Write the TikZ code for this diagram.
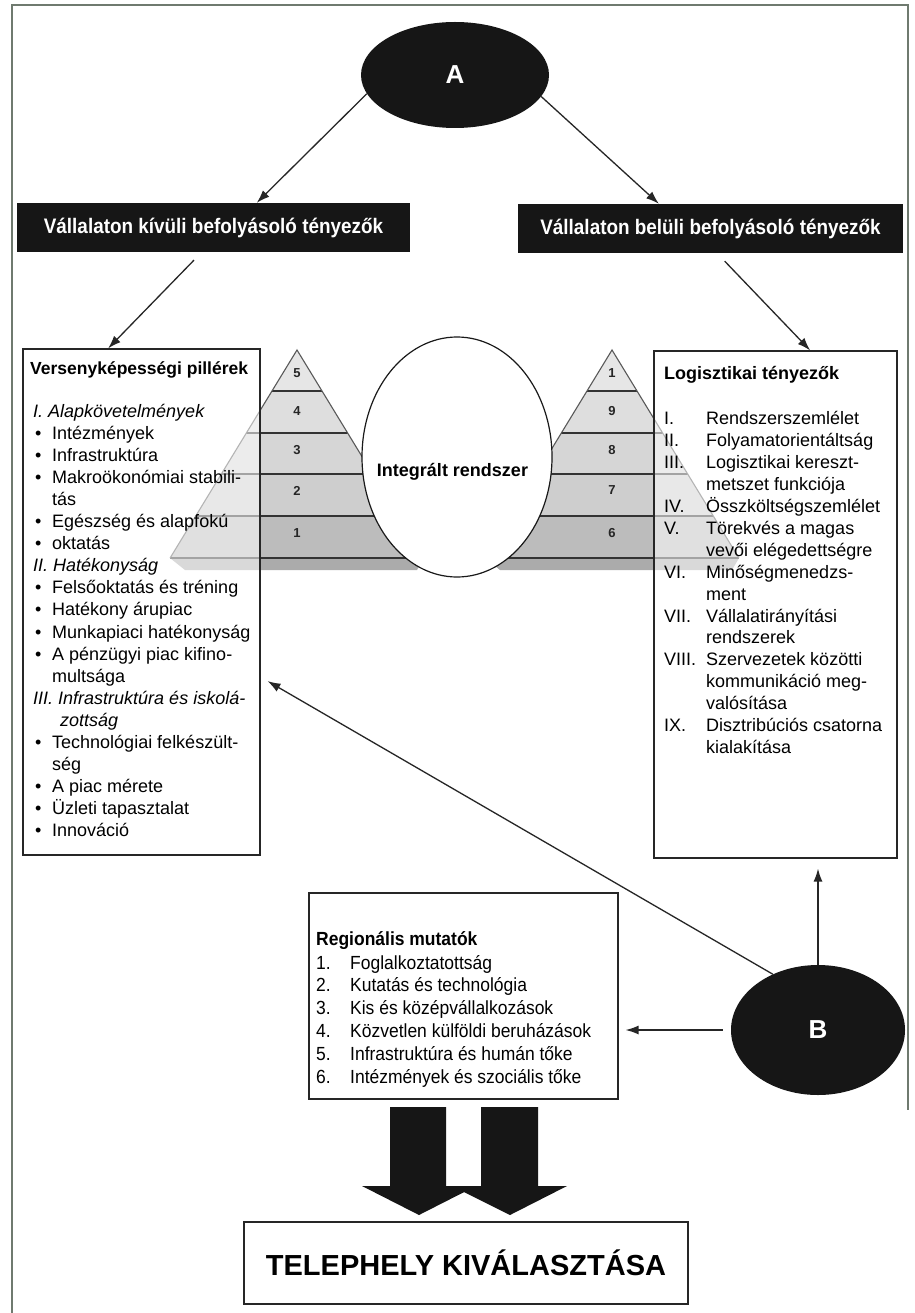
\documentclass[tikz,border=0pt]{standalone}
\usepackage{fontspec}
\setmainfont{Liberation Sans}
\newfontfamily\narrowfont[FakeStretch=0.9]{Liberation Sans}
\newfontfamily\regfont[FakeStretch=0.92]{Liberation Sans}
\usetikzlibrary{arrows.meta,shapes.geometric,calc}
\definecolor{ink}{HTML}{161616}
\definecolor{framec}{HTML}{6F7A6F}
\definecolor{pyrE}{HTML}{E6E6E6}
\definecolor{pyrD}{HTML}{DEDEDE}
\definecolor{pyrC}{HTML}{D6D6D6}
\definecolor{pyrB}{HTML}{CECECE}
\definecolor{pyrA}{HTML}{BCBCBC}
\definecolor{pyrband}{HTML}{ABABAB}
\newcommand\pbul{\hspace*{2pt}\makebox[17pt][l]{•}}
\newcommand\pcont{\hspace*{19pt}}
\newcommand\rnum[1]{\makebox[42pt][l]{#1}}
\newcommand\rcont{\hspace*{42pt}}
\newcommand\regn[1]{\makebox[34pt][l]{#1}}
\tikzset{
  boxs/.style={draw=black!85, line width=1.2pt, inner sep=0},
  blackbox/.style={fill=ink, text=white, inner sep=0,
    font=\narrowfont\bfseries\fontsize{21}{21}\selectfont},
  arr/.style={-{Latex[length=13pt,width=9pt]}, line width=1.3pt, draw=black!85},
  dark/.style={ellipse, fill=ink, text=white, inner sep=0,
    font=\bfseries\fontsize{26}{26}\selectfont},
  pyrline/.style={draw=black!80, line width=1.1pt},
  pnum/.style={text=black!85, inner sep=0, font=\bfseries\fontsize{13}{13}\selectfont},
  txt/.style={anchor=base west, inner sep=0, text=black},
}
\begin{document}
\begin{tikzpicture}[x=1pt,y=-1pt]
\useasboundingbox[fill=white] (0,0) rectangle (914,1313);
% frame
\draw[framec, line width=2pt] (12,1313) -- (12,5) -- (908,5) -- (908,1110);
% pyramids
\foreach \cx in {297,612} {
  \fill[pyrband] ({\cx-127},558) -- ({\cx+127},558) -- ({\cx+120},570) -- ({\cx-112},570) -- cycle;
  \foreach \ya/\yb/\c in {350/391/pyrE,391/433/pyrD,433/474/pyrC,474/516/pyrB,516/558/pyrA} {
    \fill[\c] ({\cx-0.61*(\ya-350)},\ya) -- ({\cx+0.61*(\ya-350)},\ya) -- ({\cx+0.61*(\yb-350)},\yb) -- ({\cx-0.61*(\yb-350)},\yb) -- cycle;
  }
  \foreach \yb in {391,433,474,516,558} {
    \draw[pyrline] ({\cx-0.61*(\yb-350)},\yb) -- ({\cx+0.61*(\yb-350)},\yb);
  }
  \draw[pyrline, draw=black!65] ({\cx-126.9},558) -- (\cx,350) -- ({\cx+126.9},558);
}
% integrated system circle
\node[ellipse, draw=black!90, fill=white, line width=1.2pt, minimum width=190pt, minimum height=240pt, inner sep=0] (ir) at (457,457) {};
\node[inner sep=0, font=\bfseries\fontsize{18}{18}\selectfont] (irt) at (452.5,472) {Integrált rendszer};
% pyramid numbers
\foreach \n/\y in {5/373,4/411,3/450,2/491,1/533} { \node[pnum] (pl\n) at (297,\y) {\n}; }
\foreach \n/\y in {1/373,9/411,8/450,7/490,6/533} { \node[pnum] (pr\n) at (612,\y) {\n}; }
% side boxes
\node[boxs, fill=white, fill opacity=0.55, minimum width=237pt, minimum height=506pt] (lbox) at (141.5,602) {};
\node[boxs, fill=white, fill opacity=0.55, minimum width=243pt, minimum height=507pt] (rbox) at (775.5,604.5) {};
\node[txt] (lt) at (33,374) {\parbox[t]{240pt}{\fontsize{18}{22.1}\selectfont
\hspace*{-3pt}{\bfseries\fontsize{17.5}{22.1}\selectfont Versenyképességi pillérek}\\[20.9pt]
\textit{I. Alapkövetelmények}\\
\pbul Intézmények\\
\pbul Infrastruktúra\\
\pbul Makroökonómiai stabili-\\
\pcont tás\\
\pbul Egészség és alapfokú\\
\pbul oktatás\\
\textit{II. Hatékonyság}\\
\pbul Felsőoktatás és tréning\\
\pbul Hatékony árupiac\\
\pbul Munkapiaci hatékonyság\\
\pbul A pénzügyi piac kifino-\\
\pcont multsága\\
\textit{III. Infrastruktúra és iskolá-}\\
\hspace*{27pt}\textit{zottság}\\
\pbul Technológiai felkészült-\\
\pcont ség\\
\pbul A piac mérete\\
\pbul Üzleti tapasztalat\\
\pbul Innováció}};
\node[txt] (rt) at (664,379) {\parbox[t]{240pt}{\fontsize{18}{21.9}\selectfont
{\bfseries Logisztikai tényezők}\\[24pt]
\rnum{I.}Rendszerszemlélet\\
\rnum{II.}Folyamatorientáltság\\
\rnum{III.}Logisztikai kereszt-\\
\rcont metszet funkciója\\
\rnum{IV.}Összköltségszemlélet\\
\rnum{V.}Törekvés a magas\\
\rcont vevői elégedettségre\\
\rnum{VI.}Minőségmenedzs-\\
\rcont ment\\
\rnum{VII.}Vállalatirányítási\\
\rcont rendszerek\\
\rnum{VIII.}Szervezetek közötti\\
\rcont kommunikáció meg-\\
\rcont valósítása\\
\rnum{IX.}Disztribúciós csatorna\\
\rcont kialakítása}};
% top part
\node[dark, minimum width=188pt, minimum height=106pt] (A) at (455,75) {A};
\node[blackbox, minimum width=393pt, minimum height=49pt] (kv) at (213.5,227.5) {Vállalaton kívüli befolyásoló tényezők};
\node[blackbox, minimum width=385pt, minimum height=49pt] (bv) at (710.5,228.5) {Vállalaton belüli befolyásoló tényezők};
\draw[arr] (A.192) -- ($(kv.north west)!0.61!(kv.north east)$);
\draw[arr] (A.346) -- ($(bv.north west)!0.366!(bv.north east)$);
\draw[arr, shorten <=11pt] ($(kv.south west)!0.47!(kv.south east)$) -- ($(lbox.north west)!0.36!(lbox.north east)$);
\draw[arr, shorten <=11pt] ($(bv.south west)!0.517!(bv.south east)$) -- ($(rbox.north west)!0.642!(rbox.north east)$);
% bottom part
\node[boxs, minimum width=309pt, minimum height=206pt] (reg) at (463.5,996) {};
\node[txt] (regt) at (316,945) {\parbox[t]{300pt}{\regfont\fontsize{19}{22.8}\selectfont
{\bfseries Regionális mutatók}\\[1.2pt]
\regn{1.}Foglalkoztatottság\\
\regn{2.}Kutatás és technológia\\
\regn{3.}Kis és középvállalkozások\\
\regn{4.}Közvetlen külföldi beruházások\\
\regn{5.}Infrastruktúra és humán tőke\\
\regn{6.}Intézmények és szociális tőke}};
\node[dark, minimum width=174pt, minimum height=130pt] (B) at (818,1030) {B};
\draw[arr, shorten >=8pt] (B.129) -- ($(lbox.north east)!0.648!(lbox.south east)$);
\draw[arr, shorten >=10pt] (B.north) -- (B.north |- rbox.south);
\draw[arr, shorten <=8pt, shorten >=7pt] (B.west) -- (reg.east |- B.west);
% block arrows
\fill[ink] (390,1107) -- (446,1107) -- (446,1186) -- (476,1186) -- (419,1215) -- (362,1186) -- (390,1186) -- cycle;
\fill[ink] (481,1107) -- (538,1107) -- (538,1186) -- (567,1186) -- (510,1215) -- (452,1186) -- (481,1186) -- cycle;
\node[boxs, minimum width=444pt, minimum height=82pt, font=\bfseries\fontsize{29}{29}\selectfont] (tel) at (466,1263) {TELEPHELY KIVÁLASZTÁSA};
\end{tikzpicture}
\end{document}
